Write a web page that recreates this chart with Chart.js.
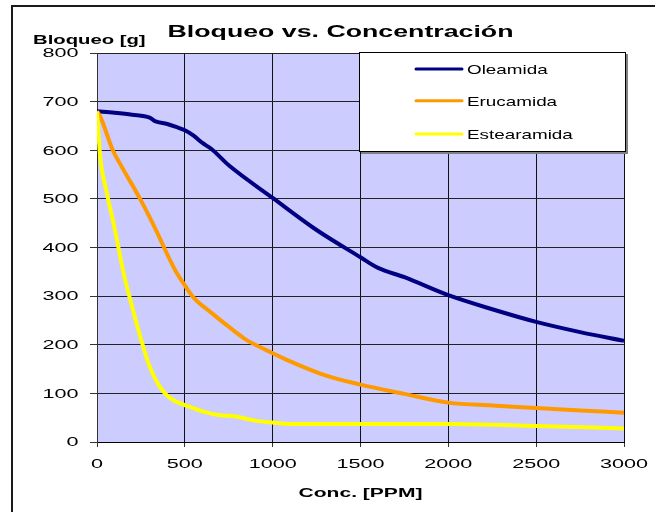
<!DOCTYPE html>
<html lang="es">
<head>
<meta charset="UTF-8">
<title>Bloqueo vs. Concentración</title>
<script src="https://cdn.jsdelivr.net/npm/chart.js"></script>
<style>
  body { margin: 0; background: #fff; }
  canvas { display: block; }
</style>
</head>
<body>
<canvas id="bloqueoChart" width="655" height="512"></canvas>
<script>
// Bloqueo (g) frente a concentración de aditivo (PPM)
const concOleamida    = [0, 100, 200, 300, 330, 400, 450, 500, 550, 600, 650, 750, 1000, 1250, 1500, 1600, 1750, 2000, 2250, 2500, 2750, 3000];
const bloqueoOleamida = [680, 677, 673, 667, 660, 654, 648, 641, 630, 615, 603, 569, 502, 436, 380, 358, 339, 302, 273, 247, 226, 208];

const concErucamida    = [0, 20, 90, 130, 250, 300, 350, 400, 450, 500, 550, 650, 775, 850, 970, 1080, 1300, 1500, 1750, 2000, 2250, 2500, 2750, 3000];
const bloqueoErucamida = [680, 668, 600, 573, 497, 462, 425, 386, 350, 322, 297, 266, 230, 210, 188, 169, 137, 118, 99, 81, 75, 70, 65, 60];

const concEstearamida    = [0, 20, 50, 100, 150, 200, 250, 300, 350, 400, 450, 500, 600, 700, 780, 900, 1000, 1100, 1500, 2000, 2500, 3000];
const bloqueoEstearamida = [680, 580, 522, 440, 350, 278, 212, 155, 118, 95, 83, 76, 63, 55, 53, 44, 40, 37, 37, 37, 33, 28];

const titulo  = 'Bloqueo vs. Concentración';
const tituloY = 'Bloqueo [g]';
const tituloX = 'Conc. [PPM]';

const FONT = '"Liberation Sans", Arial, sans-serif';

function puntos(xs, ys) {
    return xs.map((x, i) => ({ x: x, y: ys[i] }));
}

// texto ensanchado horizontalmente (como en la hoja original)
function texto(ctx, str, x, y, font, sx, align) {
    ctx.save();
    ctx.font = font;
    ctx.fillStyle = '#000';
    ctx.textAlign = align;
    ctx.textBaseline = 'alphabetic';
    ctx.translate(x, y);
    ctx.scale(sx, 1);
    ctx.fillText(str, 0, 0);
    ctx.restore();
}

const decorado = {
    id: 'decorado',
    beforeDraw(chart) {
        const { ctx, chartArea: a } = chart;
        ctx.save();
        ctx.fillStyle = '#CCCCFF';
        ctx.fillRect(a.left, a.top, a.right - a.left, a.bottom - a.top);
        ctx.restore();
    },
    afterDraw(chart) {
        const ctx = chart.ctx;
        const xs = chart.scales.x, ys = chart.scales.y;

        // marco exterior
        ctx.save();
        ctx.strokeStyle = '#1a1a1a';
        ctx.lineWidth = 2;
        ctx.beginPath();
        ctx.moveTo(12, 512);
        ctx.lineTo(12, 6);
        ctx.lineTo(655, 6);
        ctx.stroke();
        ctx.restore();

        // títulos
        texto(ctx, titulo, 340.5, 37, 'bold 16px ' + FONT, 1.67, 'center');
        texto(ctx, tituloY, 33, 43.5, 'bold 12.6px ' + FONT, 1.61, 'left');
        texto(ctx, tituloX, (xs.left + xs.right) / 2, 497, 'bold 12.6px ' + FONT, 1.67, 'center');

        // etiquetas de los ejes
        ys.ticks.forEach(t => {
            texto(ctx, String(t.value), 78.5, ys.getPixelForValue(t.value) + 4.3, '12px ' + FONT, 1.8, 'right');
        });
        xs.ticks.forEach(t => {
            texto(ctx, String(t.value), xs.getPixelForValue(t.value), 467.5, '12px ' + FONT, 1.8, 'center');
        });

        // leyenda
        const bx = 359, by = 52, bw = 267, bh = 100;
        ctx.save();
        ctx.fillStyle = '#808080';
        ctx.fillRect(bx + 2, by + 2, bw, bh);
        ctx.fillStyle = '#fff';
        ctx.fillRect(bx, by, bw, bh);
        ctx.strokeStyle = '#000';
        ctx.lineWidth = 1;
        ctx.strokeRect(bx + 0.5, by + 0.5, bw - 1, bh - 1);
        ctx.restore();

        const filas = [69, 100.7, 134];
        chart.data.datasets.forEach((ds, i) => {
            const y = filas[i];
            ctx.save();
            ctx.strokeStyle = ds.borderColor;
            ctx.lineWidth = 3;
            ctx.lineCap = 'round';
            ctx.beginPath();
            ctx.moveTo(416, y);
            ctx.lineTo(462, y);
            ctx.stroke();
            ctx.restore();
            texto(ctx, ds.label, 467, y + 5, '13px ' + FONT, 1.45, 'left');
        });
    }
};

const ctx = document.getElementById('bloqueoChart').getContext('2d');
new Chart(ctx, {
    type: 'line',
    data: {
        datasets: [
            {
                label: 'Oleamida',
                data: puntos(concOleamida, bloqueoOleamida),
                borderColor: '#000080',
                order: 3
            },
            {
                label: 'Erucamida',
                data: puntos(concErucamida, bloqueoErucamida),
                borderColor: '#FF9900',
                order: 2
            },
            {
                label: 'Estearamida',
                data: puntos(concEstearamida, bloqueoEstearamida),
                borderColor: '#FFFF00',
                order: 1
            }
        ]
    },
    options: {
        responsive: false,
        animation: false,
        layout: { padding: { top: 53, right: 31, left: 0, bottom: 0 } },
        elements: {
            line: { borderWidth: 4, cubicInterpolationMode: 'monotone', fill: false },
            point: { radius: 0 }
        },
        plugins: {
            legend: { display: false },
            title: { display: false },
            tooltip: { enabled: false }
        },
        scales: {
            x: {
                type: 'linear',
                min: 0,
                max: 3000,
                ticks: { stepSize: 500, display: false },
                grid: { color: '#111', lineWidth: 1, tickLength: 5, tickColor: '#333' },
                border: { color: '#000', width: 1 },
                afterFit(scale) { scale.height = 70; }
            },
            y: {
                min: 0,
                max: 800,
                ticks: { stepSize: 100, display: false },
                grid: { color: '#222', lineWidth: 1, tickLength: 7, tickColor: '#333' },
                border: { color: '#333', width: 1 },
                afterFit(scale) { scale.width = 97; }
            }
        }
    },
    plugins: [decorado]
});
</script>
</body>
</html>
